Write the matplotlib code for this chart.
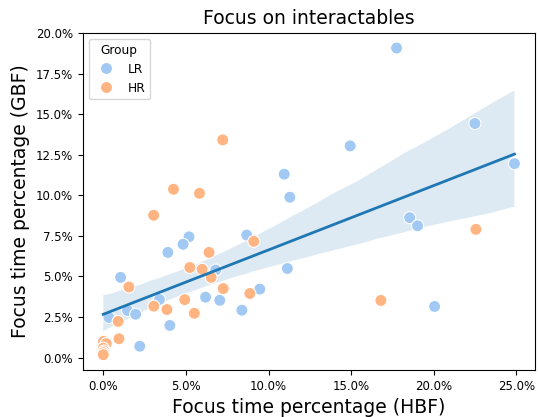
import matplotlib
matplotlib.use('Agg')
import matplotlib.pyplot as plt
from matplotlib.ticker import PercentFormatter
import numpy as np
import pandas as pd
import seaborn as sns

# focus time percentages (in %)
lr_hbf = [17.75, 22.49, 14.94, 10.95, 24.88, 11.29, 18.54, 19.02, 8.68, 5.19,
          4.83, 3.91, 11.14, 6.80, 1.05, 9.47, 6.19, 3.40, 7.05, 20.05,
          8.39, 1.47, 1.96, 0.34, 4.03, 2.21]
lr_gbf = [19.07, 14.42, 13.04, 11.30, 11.95, 9.88, 8.62, 8.12, 7.55, 7.44,
          6.98, 6.48, 5.49, 5.39, 4.94, 4.22, 3.72, 3.58, 3.53, 3.15,
          2.92, 2.90, 2.67, 2.47, 1.98, 0.70]

# last few HR points overlap in a pile at the origin
hr_hbf = [7.23, 4.25, 5.82, 3.05, 22.55, 9.11, 6.40, 5.24, 5.98, 6.53,
          1.55, 7.26, 8.87, 4.93, 16.80, 3.06, 3.85, 5.51, 0.90, 0.95,
          0.02, 0.18, 0.00, 0.05, 0.00, 0.00]
hr_gbf = [13.41, 10.37, 10.12, 8.77, 7.90, 7.16, 6.48, 5.55, 5.44, 4.94,
          4.35, 4.25, 3.95, 3.57, 3.52, 3.17, 2.96, 2.73, 2.23, 1.16,
          1.00, 0.86, 0.58, 0.40, 0.30, 0.18]

df = pd.DataFrame({
    'HBF': np.array(lr_hbf + hr_hbf) / 100,
    'GBF': np.array(lr_gbf + hr_gbf) / 100,
    'Group': ['LR'] * len(lr_hbf) + ['HR'] * len(hr_hbf),
})

fig, ax = plt.subplots(figsize=(5.38, 4.17), dpi=100)
fig.subplots_adjust(left=0.1537, right=0.9944, top=0.9216, bottom=0.1127)

sns.regplot(data=df, x='HBF', y='GBF', scatter=False, ax=ax, seed=0,
            line_kws={'lw': 2})
sns.scatterplot(data=df, x='HBF', y='GBF', hue='Group', palette='pastel',
                s=75, edgecolor='white', linewidth=0.8, ax=ax)

ax.xaxis.set_major_formatter(PercentFormatter(1, decimals=1))
ax.yaxis.set_major_formatter(PercentFormatter(1, decimals=1))
ax.tick_params(labelsize=8.5)
ax.set_title('Focus on interactables', fontsize=13.5)
ax.set_xlabel('Focus time percentage (HBF)', fontsize=13.5)
ax.set_ylabel('Focus time percentage (GBF)', fontsize=13.5)
ax.legend(title='Group', loc='upper left', fontsize=8.7, title_fontsize=8.7)

fig.savefig('out.png', dpi=100)
